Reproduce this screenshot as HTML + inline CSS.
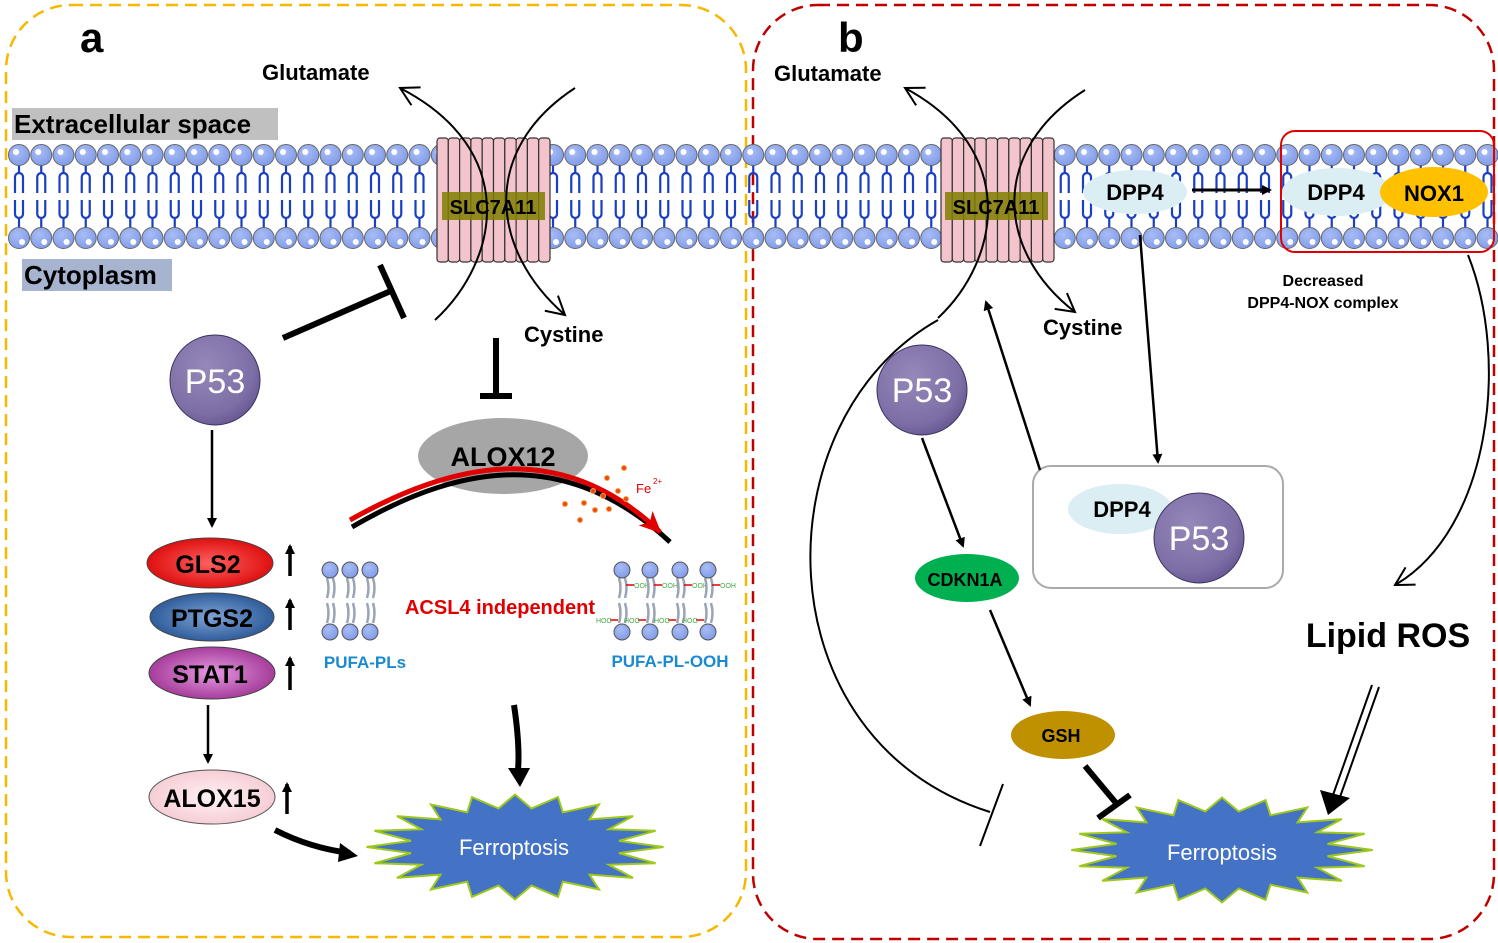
<!DOCTYPE html>
<html><head><meta charset="utf-8"><style>
html,body{margin:0;padding:0;background:#fff;width:1498px;height:943px;overflow:hidden}
svg{display:block}
text{font-family:"Liberation Sans",Arial,sans-serif}
</style></head><body>
<svg id="s" width="1498" height="943" viewBox="0 0 1498 943" xmlns="http://www.w3.org/2000/svg">
<defs>
<radialGradient id="head" cx="0.4" cy="0.35" r="0.7"><stop offset="0" stop-color="#a9bdf5"/><stop offset="1" stop-color="#7f9ae8"/></radialGradient>
<radialGradient id="p53" cx="0.4" cy="0.35" r="0.75"><stop offset="0" stop-color="#9688b8"/><stop offset="0.7" stop-color="#7d6ea6"/><stop offset="1" stop-color="#5e4f8a"/></radialGradient>
<radialGradient id="gRed" cx="0.5" cy="0.5" r="0.6"><stop offset="0" stop-color="#ff6060"/><stop offset="1" stop-color="#d80000"/></radialGradient>
<radialGradient id="gBlue" cx="0.5" cy="0.5" r="0.6"><stop offset="0" stop-color="#7fa3d6"/><stop offset="1" stop-color="#1f4f8f"/></radialGradient>
<radialGradient id="gPur" cx="0.5" cy="0.5" r="0.6"><stop offset="0" stop-color="#e59ae0"/><stop offset="1" stop-color="#9a2a8e"/></radialGradient>
<radialGradient id="gPink" cx="0.5" cy="0.5" r="0.6"><stop offset="0" stop-color="#fff2f4"/><stop offset="1" stop-color="#f4c6cf"/></radialGradient>
<marker id="ah" markerWidth="10" markerHeight="10" refX="8" refY="5" orient="auto" markerUnits="userSpaceOnUse"><path d="M0,0 L10,5 L0,10 z" fill="#000"/></marker>
<marker id="oh" markerWidth="24" markerHeight="24" refX="20" refY="12" orient="auto" markerUnits="userSpaceOnUse"><path d="M2,2 L20,12 L2,22" fill="none" stroke="#000" stroke-width="2"/></marker>
<marker id="rh" markerWidth="24" markerHeight="20" refX="20" refY="10" orient="auto" markerUnits="userSpaceOnUse"><path d="M0,0 L22,10 L0,20 L6,10 z" fill="#e00000"/></marker>
</defs>
<rect x="6" y="5" width="740" height="932" rx="65" fill="none" stroke="#f6b800" stroke-width="2.5" stroke-dasharray="12,7"/>
<rect x="753" y="5" width="741" height="934" rx="65" fill="none" stroke="#c00000" stroke-width="2.5" stroke-dasharray="12,7"/>

<g id="mem"></g>

<text x="80" y="52" font-size="42" font-weight="bold">a</text>
<text x="838" y="52" font-size="42" font-weight="bold">b</text>
<rect x="12" y="108" width="266" height="32" fill="#c0c0c0"/>
<text x="14" y="133" font-size="26" font-weight="bold">Extracellular space</text>
<rect x="22" y="259" width="150" height="32" fill="#a6b4d0"/>
<text x="24" y="284" font-size="26" font-weight="bold">Cytoplasm</text>
<text x="262" y="80" font-size="22" font-weight="bold">Glutamate</text>
<text x="774" y="81" font-size="22" font-weight="bold">Glutamate</text>
<text x="524" y="342" font-size="22" font-weight="bold">Cystine</text>
<text x="1043" y="335" font-size="22" font-weight="bold">Cystine</text>

<g id="tr1"></g><g id="tr2"></g>
<rect x="442" y="192" width="103" height="28" fill="#7f7f00" opacity="0.85"/>
<text x="493" y="214" font-size="20" font-weight="bold" text-anchor="middle">SLC7A11</text>
<rect x="945" y="192" width="103" height="28" fill="#7f7f00" opacity="0.85"/>
<text x="996" y="214" font-size="20" font-weight="bold" text-anchor="middle">SLC7A11</text>

<g fill="none" stroke="#000" stroke-width="2">
<path d="M435,320 C500,260 520,150 400,88" marker-end="url(#oh)"/>
<path d="M575,88 C480,150 490,250 565,315" marker-end="url(#oh)"/>
<path d="M938,318 C1000,260 1020,150 905,88" marker-end="url(#oh)"/>
<path d="M1085,90 C990,150 995,250 1075,312" marker-end="url(#oh)"/>
</g>

<circle cx="215" cy="380" r="45" fill="url(#p53)" stroke="#3c3360" stroke-width="1"/>
<text x="215" y="393" font-size="34" fill="#fff" text-anchor="middle">P53</text>
<g stroke="#000" stroke-width="6">
<line x1="283" y1="338" x2="393" y2="290"/><line x1="380" y1="265" x2="404" y2="318"/>
<line x1="496" y1="338" x2="496" y2="394"/><line x1="480" y1="396" x2="512" y2="396"/>
</g>
<ellipse cx="503" cy="456" rx="85" ry="38" fill="#a6a6a6"/>
<text x="503" y="466" font-size="27" font-weight="bold" text-anchor="middle">ALOX12</text>
<path d="M352,527 C450,470 560,440 670,542" fill="none" stroke="#000" stroke-width="5"/>
<path d="M350,520 C450,464 560,436 660,532" fill="none" stroke="#e00000" stroke-width="5" marker-end="url(#rh)"/>
<g fill="#e84a1a" stroke="#ffa040" stroke-width="1">
<circle cx="624" cy="468" r="2.5"/><circle cx="607" cy="478" r="2.5"/><circle cx="618" cy="491" r="2.5"/><circle cx="593" cy="491" r="2.5"/><circle cx="603" cy="496" r="2.5"/><circle cx="626" cy="499" r="2.5"/><circle cx="565" cy="504" r="2.5"/><circle cx="584" cy="503" r="2.5"/><circle cx="595" cy="510" r="2.5"/><circle cx="609" cy="509" r="2.5"/><circle cx="580" cy="520" r="2.5"/>
</g>
<text x="636" y="493" font-size="13" fill="#e00000">Fe</text><text x="653" y="484" font-size="8" fill="#e00000">2+</text>

<g stroke="#000" stroke-width="2.5" marker-end="url(#ah)">
<line x1="212" y1="430" x2="212" y2="526"/>
<line x1="208" y1="705" x2="208" y2="762"/>
</g>
<ellipse cx="210" cy="563" rx="63" ry="25" fill="url(#gRed)" stroke="#444"/>
<text x="208" y="573" font-size="25" font-weight="bold" text-anchor="middle">GLS2</text>
<ellipse cx="212" cy="617" rx="62" ry="24" fill="url(#gBlue)" stroke="#444"/>
<text x="212" y="627" font-size="25" font-weight="bold" text-anchor="middle">PTGS2</text>
<ellipse cx="212" cy="673" rx="63" ry="26" fill="url(#gPur)" stroke="#444"/>
<text x="210" y="683" font-size="25" font-weight="bold" text-anchor="middle">STAT1</text>
<ellipse cx="212" cy="797" rx="63" ry="27" fill="url(#gPink)" stroke="#555"/>
<text x="212" y="807" font-size="25" font-weight="bold" text-anchor="middle">ALOX15</text>
<g stroke="#000" stroke-width="3.5" marker-end="url(#ah)">
<line x1="290" y1="576" x2="290" y2="546"/>
<line x1="290" y1="630" x2="290" y2="600"/>
<line x1="290" y1="690" x2="290" y2="658"/>
<line x1="287" y1="814" x2="287" y2="784"/>
</g>
<path d="M275,830 Q310,848 350,853" fill="none" stroke="#000" stroke-width="6"/>
<path d="M340,843 L358,856 L338,862 z" fill="#000"/>
<path d="M514,705 Q520,745 518,770" fill="none" stroke="#000" stroke-width="6"/>
<path d="M508,768 L520,787 L530,768 z" fill="#000"/>

<g id="lip"></g>
<text x="365" y="668" font-size="17" font-weight="bold" fill="#1a8ad0" text-anchor="middle">PUFA-PLs</text>
<text x="670" y="667" font-size="17" font-weight="bold" fill="#1a8ad0" text-anchor="middle">PUFA-PL-OOH</text>
<text x="500" y="614" font-size="20" font-weight="bold" fill="#e00000" text-anchor="middle">ACSL4 independent</text>

<polygon id="st1" fill="#4472c4" stroke="#9ec81c" stroke-width="2"/>
<text x="514" y="855" font-size="22" fill="#fff" text-anchor="middle">Ferroptosis</text>

<ellipse cx="1135" cy="192" rx="52" ry="22" fill="#dbeef4"/>
<text x="1135" y="200" font-size="22" font-weight="bold" text-anchor="middle">DPP4</text>
<line x1="1192" y1="190" x2="1270" y2="190" stroke="#000" stroke-width="3" marker-end="url(#ah)"/>
<rect x="1281" y="131" width="213" height="121" rx="14" fill="none" stroke="#e00000" stroke-width="2"/>
<ellipse cx="1337" cy="192" rx="55" ry="24" fill="#dbeef4"/>
<text x="1336" y="200" font-size="22" font-weight="bold" text-anchor="middle">DPP4</text>
<ellipse cx="1434" cy="192" rx="54" ry="25" fill="#ffc000"/>
<text x="1434" y="201" font-size="22" font-weight="bold" text-anchor="middle">NOX1</text>
<text x="1323" y="286" font-size="16" font-weight="bold" text-anchor="middle">Decreased</text>
<text x="1323" y="308" font-size="16" font-weight="bold" text-anchor="middle">DPP4-NOX complex</text>

<circle cx="922" cy="390" r="45" fill="url(#p53)" stroke="#3c3360"/>
<text x="922" y="402" font-size="34" fill="#fff" text-anchor="middle">P53</text>
<rect x="1033" y="466" width="250" height="122" rx="18" fill="none" stroke="#aaa" stroke-width="2"/>
<ellipse cx="1120" cy="509" rx="52" ry="25" fill="#dbeef4"/>
<text x="1122" y="517" font-size="22" font-weight="bold" text-anchor="middle">DPP4</text>
<circle cx="1199" cy="538" r="45" fill="url(#p53)" stroke="#3c3360"/>
<text x="1199" y="550" font-size="34" fill="#fff" text-anchor="middle">P53</text>
<ellipse cx="967" cy="578" rx="52" ry="24" fill="#00b050"/>
<text x="965" y="586" font-size="18" font-weight="bold" text-anchor="middle">CDKN1A</text>
<ellipse cx="1063" cy="735" rx="52" ry="24" fill="#bf9000"/>
<text x="1061" y="742" font-size="18" font-weight="bold" text-anchor="middle">GSH</text>
<g stroke="#000" stroke-width="2.5" marker-end="url(#ah)" fill="none">
<line x1="922" y1="438" x2="963" y2="546"/>
<line x1="990" y1="610" x2="1030" y2="705"/>
<line x1="1140" y1="235" x2="1158" y2="462"/>
<line x1="1040" y1="470" x2="986" y2="302"/>
</g>
<g stroke="#000" stroke-width="6"><line x1="1085" y1="766" x2="1116" y2="803"/><line x1="1098" y1="818" x2="1130" y2="795"/></g>
<g fill="none" stroke="#000" stroke-width="2">
<path d="M938,320 C760,420 760,740 990,812"/>
<line x1="1003" y1="784" x2="980" y2="846"/>
<path d="M1468,255 C1510,360 1490,530 1395,585" marker-end="url(#oh)"/>
</g>
<text x="1388" y="647" font-size="34" font-weight="bold" text-anchor="middle">Lipid ROS</text>
<g stroke="#000" stroke-width="2" fill="none"><line x1="1372" y1="685" x2="1333" y2="795"/><line x1="1379" y1="687" x2="1340" y2="797"/></g>
<path d="M1320,790 L1328,815 L1350,798 z" fill="#000"/>
<polygon id="st2" fill="#4472c4" stroke="#9ec81c" stroke-width="2"/>
<text x="1222" y="860" font-size="22" fill="#fff" text-anchor="middle">Ferroptosis</text>
</svg>
<script>
var NS="http://www.w3.org/2000/svg";
function el(p,t,a){var e=document.createElementNS(NS,t);for(var k in a)e.setAttribute(k,a[k]);p.appendChild(e);return e;}
var mem=document.getElementById('mem');
for(var i=0;i<68;i++){var x=19+22.25*i;
 el(mem,'path',{d:'M'+x+',165 v8 M'+(x-4)+',193 v-16 a4,4 0 0 1 8,0 v16 M'+(x-4)+',200 v14 a4,4 0 0 0 8,0 v-14 M'+x+',218 v12',fill:'none',stroke:'#1a3fc0','stroke-width':2.2});
 el(mem,'circle',{cx:x,cy:155,r:10.5,fill:'url(#head)',stroke:'#666','stroke-width':1});
 el(mem,'circle',{cx:x-3,cy:152,r:3,fill:'#fff'});
 el(mem,'circle',{cx:x,cy:238,r:10.5,fill:'url(#head)',stroke:'#666','stroke-width':1});
 el(mem,'circle',{cx:x+3,cy:242,r:3,fill:'#fff'});
}
function tr(g,x0){var G=document.getElementById(g);
 for(var i=0;i<10;i++){el(G,'rect',{x:x0+i*11.3,y:138,width:11.3,height:124,rx:3,fill:'#f4c4cc',stroke:'#333','stroke-width':1.2});}}
tr('tr1',437);tr('tr2',941);
var lip=document.getElementById('lip');
function lipid(x,ooh){
 el(lip,'path',{d:'M'+(x-3)+',578 q3,10 0,20 M'+(x-3)+',603 q3,10 0,20 M'+(x+3)+',578 q3,10 0,20 M'+(x+3)+',603 q3,10 0,20',fill:'none',stroke:'#9aa4b8','stroke-width':2.5});
 el(lip,'circle',{cx:x,cy:570,r:8,fill:'url(#head)',stroke:'#555'});
 el(lip,'circle',{cx:x,cy:632,r:8,fill:'url(#head)',stroke:'#555'});
 if(ooh){el(lip,'line',{x1:x+4,y1:585,x2:x+12,y2:585,stroke:'#e00000','stroke-width':1.5});
  var t=el(lip,'text',{x:x+12,y:588,'font-size':7,fill:'#4a4'});t.textContent='OOH';
  el(lip,'line',{x1:x-12,y1:620,x2:x-4,y2:620,stroke:'#e00000','stroke-width':1.5});
  var t2=el(lip,'text',{x:x-26,y:623,'font-size':7,fill:'#4a4'});t2.textContent='HOO';}
}
[330,350,370].forEach(function(x){lipid(x,false)});
[622,650,680,708].forEach(function(x){lipid(x,true)});
function star(id,cx,cy,rx,ry){var n=20,pts=[];
 for(var i=0;i<2*n;i++){var a=Math.PI*i/n,o=i%2==0;var sx=Math.abs(Math.cos(a));
  var R=o?1+0.1*sx:0.78;var px=cx+Math.cos(a)*rx*R,py=cy+Math.sin(a)*ry*(o?1.05:0.78);pts.push(px.toFixed(1)+','+py.toFixed(1));}
 document.getElementById(id).setAttribute('points',pts.join(' '));}
star('st1',515,847,135,50);star('st2',1222,850,137,50);
</script>
</body></html>
